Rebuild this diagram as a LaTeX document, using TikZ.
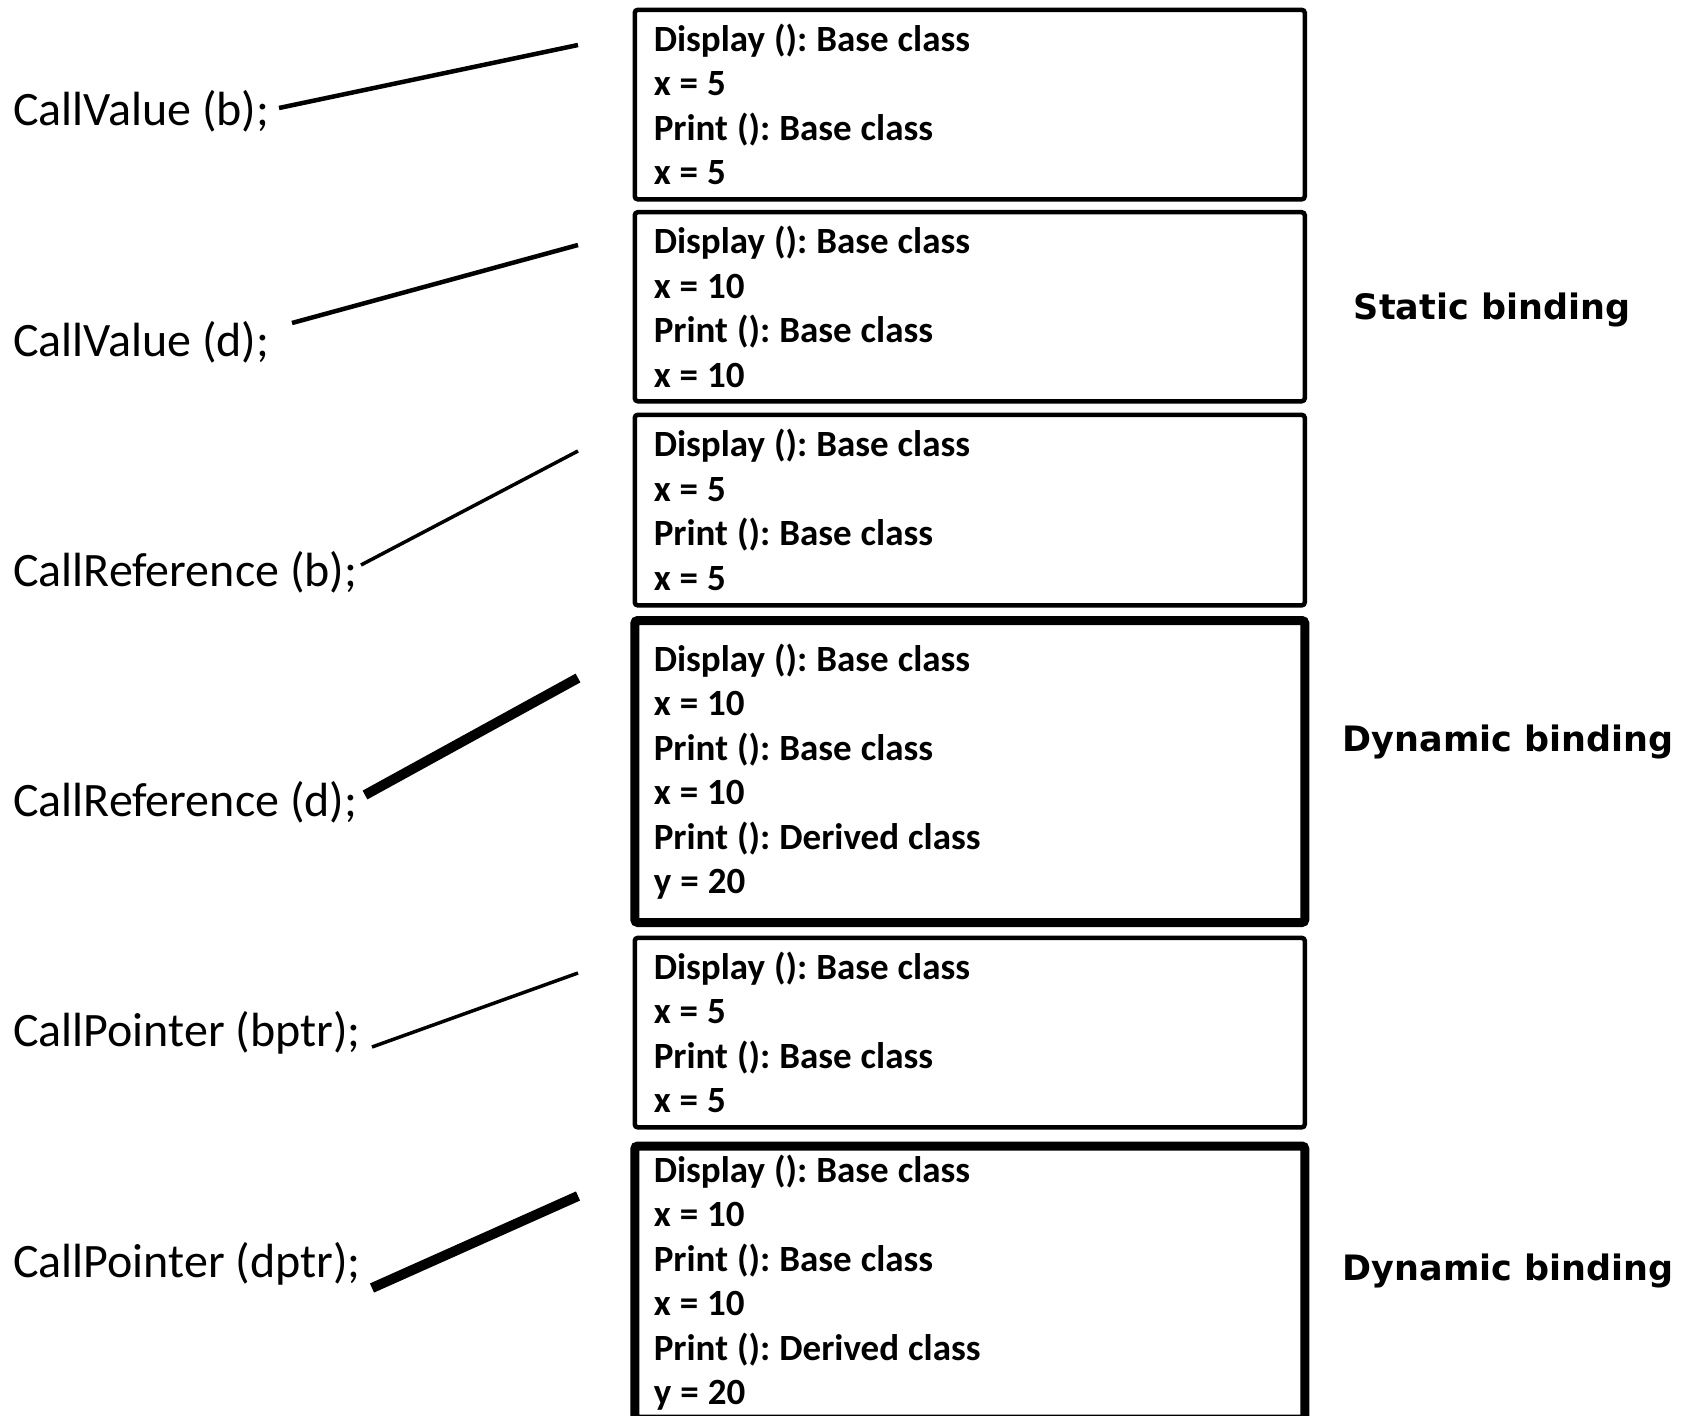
\documentclass[tikz,border=0pt]{standalone}
\usepackage{fontspec}
\setmainfont{Carlito}
\newfontfamily\bindfont{DejaVu Sans}
\usepackage{tikz}
\usetikzlibrary{positioning}
\frenchspacing

\begin{document}
\begin{tikzpicture}[
    x=1bp, y=-1bp,
    call/.style={anchor=west, inner sep=0pt, font=\fontsize{48bp}{56bp}\selectfont},
    outbox/.style={draw, line width=4.5bp, rounded corners=3bp, align=left, anchor=north west,
        minimum width=670bp, text width=632bp, inner xsep=19bp, inner ysep=0pt,
        font=\bfseries\fontsize{37bp}{44.5bp}\selectfont,
        execute at begin node={\spaceskip=9bp\relax}},
    thickbox/.style={outbox, line width=9bp},
    binding/.style={font=\bindfont\bfseries\fontsize{35bp}{40bp}\selectfont},
    link/.style={line width=4.5bp},
    strong/.style={line width=10bp}
]
\clip (0,0) rectangle (1698,1416);
\fill[white] (0,0) rectangle (1698,1416);

% calls on the left
\node[call] (cv1) at (13,111) {CallValue (b);};
\node[call] (cv2) at (13,342) {CallValue (d);};
\node[call] (cr1) at (13,572) {CallReference (b);};
\node[call] (cr2) at (13,802) {CallReference (d);};
\node[call] (cp1) at (13,1033) {CallPointer (bptr);};
\node[call] (cp2) at (13,1264) {CallPointer (dptr);};

% output boxes
\node[outbox, minimum height=189.5bp] (out1) at (632.5,7.6) {Display (): Base class\\x = 5\\Print (): Base class\\x = 5};
\node[outbox, minimum height=189bp] (out2) at (632.5,210) {Display (): Base class\\x = 10\\Print (): Base class\\x = 10};
\node[outbox, minimum height=190.5bp] (out3) at (632.5,412.6) {Display (): Base class\\x = 5\\Print (): Base class\\x = 5};
\node[thickbox, minimum height=302bp] (out4) at (630.3,616) {Display (): Base class\\x = 10\\Print (): Base class\\x = 10\\Print (): Derived class\\y = 20};
\node[outbox, minimum height=189.5bp] (out5) at (632.5,935.6) {Display (): Base class\\x = 5\\Print (): Base class\\x = 5};
\node[thickbox, minimum height=273bp] (out6) at (630.3,1141.5) {Display (): Base class\\x = 10\\Print (): Base class\\x = 10\\Print (): Derived class\\y = 20};

% binding notes
\node[binding] (static) at (1492,310) {Static binding};
\node[binding] (dyn1) at (1508,742) {Dynamic binding};
\node[binding] (dyn2) at (1508,1271) {Dynamic binding};

% connectors
\coordinate (s1) at (279,108);  \coordinate (e1) at (578,45);
\coordinate (s2) at (292,323);  \coordinate (e2) at (578,245);
\coordinate (s3) at (361,565);  \coordinate (e3) at (578,451);
\coordinate (s4) at (365,795);  \coordinate (e4) at (578,678);
\coordinate (s5) at (372,1047); \coordinate (e5) at (578,973);
\coordinate (s6) at (372,1288); \coordinate (e6) at (578,1196);
\draw[link] (s1) -- (e1);
\draw[link] (s2) -- (e2);
\draw[link, line width=3.5bp] (s3) -- (e3);
\draw[strong] (s4) -- (e4);
\draw[link, line width=3.5bp] (s5) -- (e5);
\draw[strong] (s6) -- (e6);
\end{tikzpicture}
\end{document}
